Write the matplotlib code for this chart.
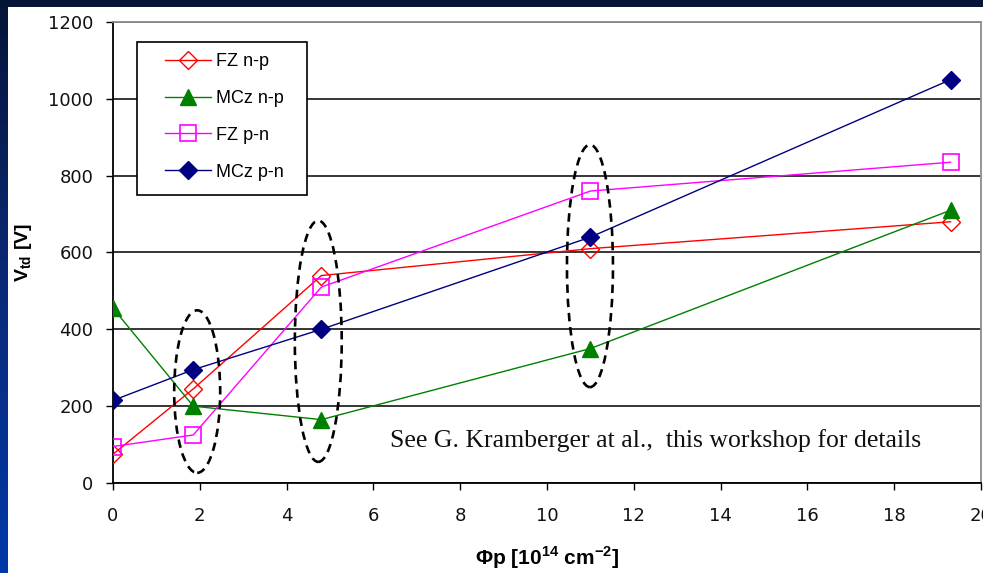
import numpy as np
import matplotlib.pyplot as plt
from matplotlib.patches import Ellipse, Rectangle
from matplotlib.colors import LinearSegmentedColormap

plt.rcParams["font.family"] = ["Liberation Sans", "DejaVu Sans"]
plt.rcParams["mathtext.fontset"] = "custom"
plt.rcParams["mathtext.rm"] = "Liberation Sans"
plt.rcParams["mathtext.bf"] = "Liberation Sans:bold"

# fluence in 1e14 cm^-2, full depletion voltage in V
fluence = [0, 1.85, 4.8, 11, 19.3]
fz_np = [75, 245, 540, 610, 680]
mcz_np = [455, 200, 165, 350, 710]
fz_pn = [95, 125, 510, 760, 835]
mcz_pn = [215, 295, 400, 640, 1050]

x_ticks = list(range(0, 21, 2))
y_ticks = list(range(0, 1201, 200))

# dashed rings drawn round the three compared fluences
ring_x = [1.94, 4.73, 10.99]
ring_y = [238, 369, 565]
ring_w = [1.06, 1.08, 1.06]
ring_h = [423, 628, 631]

W, H = 983, 573
fig = plt.figure(figsize=(W / 100, H / 100), dpi=100)

# slide background: blue gradient with a white panel on top
bg = fig.add_axes([0, 0, 1, 1], zorder=-10)
slide = LinearSegmentedColormap.from_list("slide", ["#051437", "#0a2a78", "#0038a8"])
bg.imshow(np.linspace(0, 1, 256).reshape(-1, 1), aspect="auto", cmap=slide,
          extent=[0, 1, 0, 1], transform=bg.transAxes)
bg.add_patch(Rectangle((8 / W, 0), 1, 1 - 7 / H, transform=bg.transAxes,
                       facecolor="white", edgecolor="none"))
bg.set_xlim(0, 1)
bg.set_ylim(0, 1)
bg.axis("off")

ax = fig.add_axes([113 / W, 1 - 483 / H, (981 - 113) / W, (483 - 22) / H])
ax.set_facecolor("white")

ax.plot(fluence, fz_np, color="#ff0000", lw=1, marker="D", ms=9,
        mfc="none", mec="#ff0000", mew=1, label="FZ n-p", zorder=3)
ax.plot(fluence, mcz_np, color="#008000", lw=1, marker="^", ms=11,
        mfc="#008000", mec="#008000", label="MCz n-p", zorder=3)
ax.plot(fluence, fz_pn, color="#ff00ff", lw=1, marker="s", ms=11,
        mfc="none", mec="#ff00ff", mew=1.2, label="FZ p-n", zorder=3)
ax.plot(fluence, mcz_pn, color="#000080", lw=1, marker="D", ms=9,
        mfc="#000080", mec="#000080", label="MCz p-n", zorder=3)

for cx, cy, w, h in zip(ring_x, ring_y, ring_w, ring_h):
    ax.add_patch(Ellipse((cx, cy), w, h, fill=False, edgecolor="black",
                         lw=1.9, ls=(0, (3.2, 2.2)), zorder=5))

ax.set_xlim(0, 20)
ax.set_ylim(0, 1200)
ax.set_xticks(x_ticks)
ax.set_yticks(y_ticks)
ax.tick_params(axis="x", direction="out", length=5, width=1, pad=12,
               labelsize=13, colors="black")
ax.tick_params(axis="y", direction="out", length=5, width=1, pad=9,
               labelsize=13, colors="black")
for lab in ax.get_xticklabels() + ax.get_yticklabels():
    lab.set_family("DejaVu Sans")
    lab.set_color("#111111")
ax.yaxis.grid(True, color="black", lw=1.1)
ax.set_axisbelow(True)
for side in ("top", "right"):
    ax.spines[side].set_color("#8c8c8c")
    ax.spines[side].set_linewidth(1.3)
for side in ("left", "bottom"):
    ax.spines[side].set_color("black")
    ax.spines[side].set_linewidth(1.3)

# legend: white box with black frame, entries without their own frame
ax.add_patch(Rectangle(((137 - 113) / 868, (483 - 195) / 461),
                       (307 - 137) / 868, (195 - 42) / 461,
                       transform=ax.transAxes, facecolor="white",
                       edgecolor="black", lw=1.2, zorder=6))
ax.legend(loc="upper left", bbox_to_anchor=((165 - 113) / 868, (483 - 53) / 461),
          frameon=False, fontsize=13, handlelength=2.55, handletextpad=0.28,
          labelspacing=1.1, borderpad=0, borderaxespad=0).set_zorder(7)

ax.text((390 - 113) / 868, (483 - 441) / 461,
        "See G. Kramberger at al.,  this workshop for details",
        transform=ax.transAxes, family=["Liberation Serif", "DejaVu Serif"],
        fontsize=18.5, color="#111111", ha="left", va="center", zorder=6)

ax.set_xlabel(r"Φp [10$^{\mathbf{14}}$ cm$^{\mathbf{-2}}$]", fontsize=15,
              fontweight="bold")
ax.xaxis.set_label_coords(0.5, (483 - 558) / 461)
ax.xaxis.label.set_va("center")
ax.set_ylabel(r"V$_{\mathbf{td}}$ [V]", fontsize=14, fontweight="bold")
ax.yaxis.set_label_coords((23 - 113) / 868, 0.5)
ax.yaxis.label.set_va("center")

fig.savefig("out.png", dpi=100)
